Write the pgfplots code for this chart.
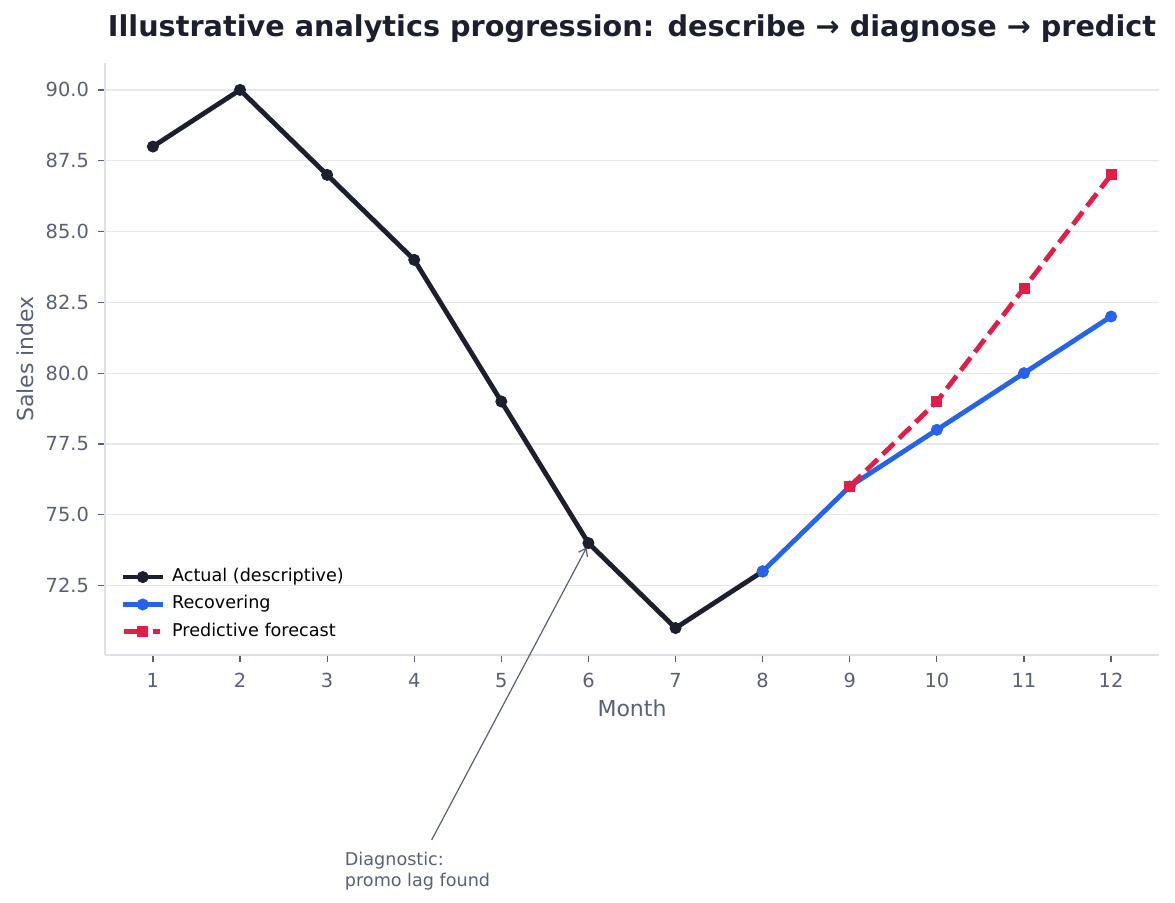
\documentclass[border=0pt]{standalone}
\usepackage{pgfplots}
\pgfplotsset{compat=1.18}
\usetikzlibrary{arrows.meta}
\usepackage{fontspec}
\setmainfont{DejaVu Sans}
\definecolor{cactual}{HTML}{1C1F2D}
\definecolor{cblue}{HTML}{2563EB}
\definecolor{cred}{HTML}{E11D48}
\definecolor{cgrid}{HTML}{E5E7EB}
\definecolor{cspine}{HTML}{DDE0E6}
\definecolor{ctext}{HTML}{586078}
\begin{document}
\begin{tikzpicture}
\useasboundingbox (-52.5pt,-124pt) rectangle (535pt,327.5pt);
\begin{axis}[
  scale only axis, width=527pt, height=296pt,
  xmin=0.45, xmax=12.55, ymin=70.05, ymax=90.95,
  axis x line*=bottom, axis y line*=left,
  axis line style={-, draw=cspine, line width=0.6pt},
  xtick={1,...,12},
  ytick={72.5,75,77.5,80,82.5,85,87.5,90},
  yticklabel style={/pgf/number format/fixed, /pgf/number format/fixed zerofill, /pgf/number format/precision=1, xshift=-1pt},
  /pgf/number format/assume math mode=true,
  ymajorgrids, grid style={cgrid, line width=0.6pt},
  tick align=outside, major tick length=3.5pt,
  tick style={draw=ctext, line width=0.6pt},
  tick label style={font=\fontsize{9.7}{11}\selectfont, text=ctext},
  xticklabel style={yshift=-2pt},
  xlabel={Month}, ylabel={Sales index},
  label style={font=\fontsize{11}{13}\selectfont, text=ctext},
  xlabel style={at={(axis description cs:0.5,-0.0895)}, anchor=center},
  ylabel style={at={(axis description cs:-0.076,0.5)}, anchor=center},
  title={Illustrative analytics progression: describe → diagnose → predict},
  title style={font=\bfseries\fontsize{14.35}{16}\selectfont, text=cactual, at={(axis description cs:0.5,1)}, anchor=center, yshift=11pt},
  clip=false,
  legend style={at={(axis description cs:0.0142,0.024)}, anchor=south west, draw=none, fill=none,
    font=\fontsize{8.8}{10}\selectfont, inner sep=0pt, row sep=5.2pt, column sep=3.5pt,
    nodes={inner sep=0pt, text height=6.5pt, text depth=2pt}},
  legend cell align=left,
  legend image code/.code={\draw[mark repeat=2, mark phase=2] plot coordinates {(0pt,0pt) (10pt,0pt) (20pt,0pt)};},
]
\addplot[cactual, line width=2.4pt, mark=*, mark size=2.8pt, mark options={solid, line width=0.4pt}] coordinates {
 (1,88) (2,90) (3,87) (4,84) (5,79) (6,74) (7,71) (8,73)};
\addlegendentry{Actual (descriptive)}
\addplot[cblue, line width=2.4pt, mark=*, mark size=2.8pt, mark options={solid, line width=0.4pt}] coordinates {
 (8,73) (9,76) (10,78) (11,80) (12,82)};
\addlegendentry{Recovering}
\addplot[cred, line width=2.4pt, dash pattern=on 8pt off 3.5pt, mark=square*, mark size=2.5pt, mark options={solid, line width=0.4pt},
  legend image code/.code={\draw[solid] (0.5pt,0pt) -- (8pt,0pt) (15pt,0pt) -- (18.5pt,0pt);
    \draw[draw=none] plot[mark=square*, mark size=2.5pt, mark options={solid, fill=cred, draw=cred, line width=0.4pt}] coordinates {(10pt,0pt)};}] coordinates {
 (9,76) (10,79) (11,83) (12,87)};
\addlegendentry{Predictive forecast}
\draw[-{Straight Barb[length=3.5pt,width=5pt]}, ctext, line width=0.6pt] (axis cs:4.2,63.52) -- (axis cs:5.98,73.85);
\node[anchor=north west, align=left, inner sep=0pt, text=ctext, font=\fontsize{8.8}{10.5}\selectfont] at (axis cs:3.2,63.1) {Diagnostic:\\promo lag found};
\end{axis}
\end{tikzpicture}
\end{document}
